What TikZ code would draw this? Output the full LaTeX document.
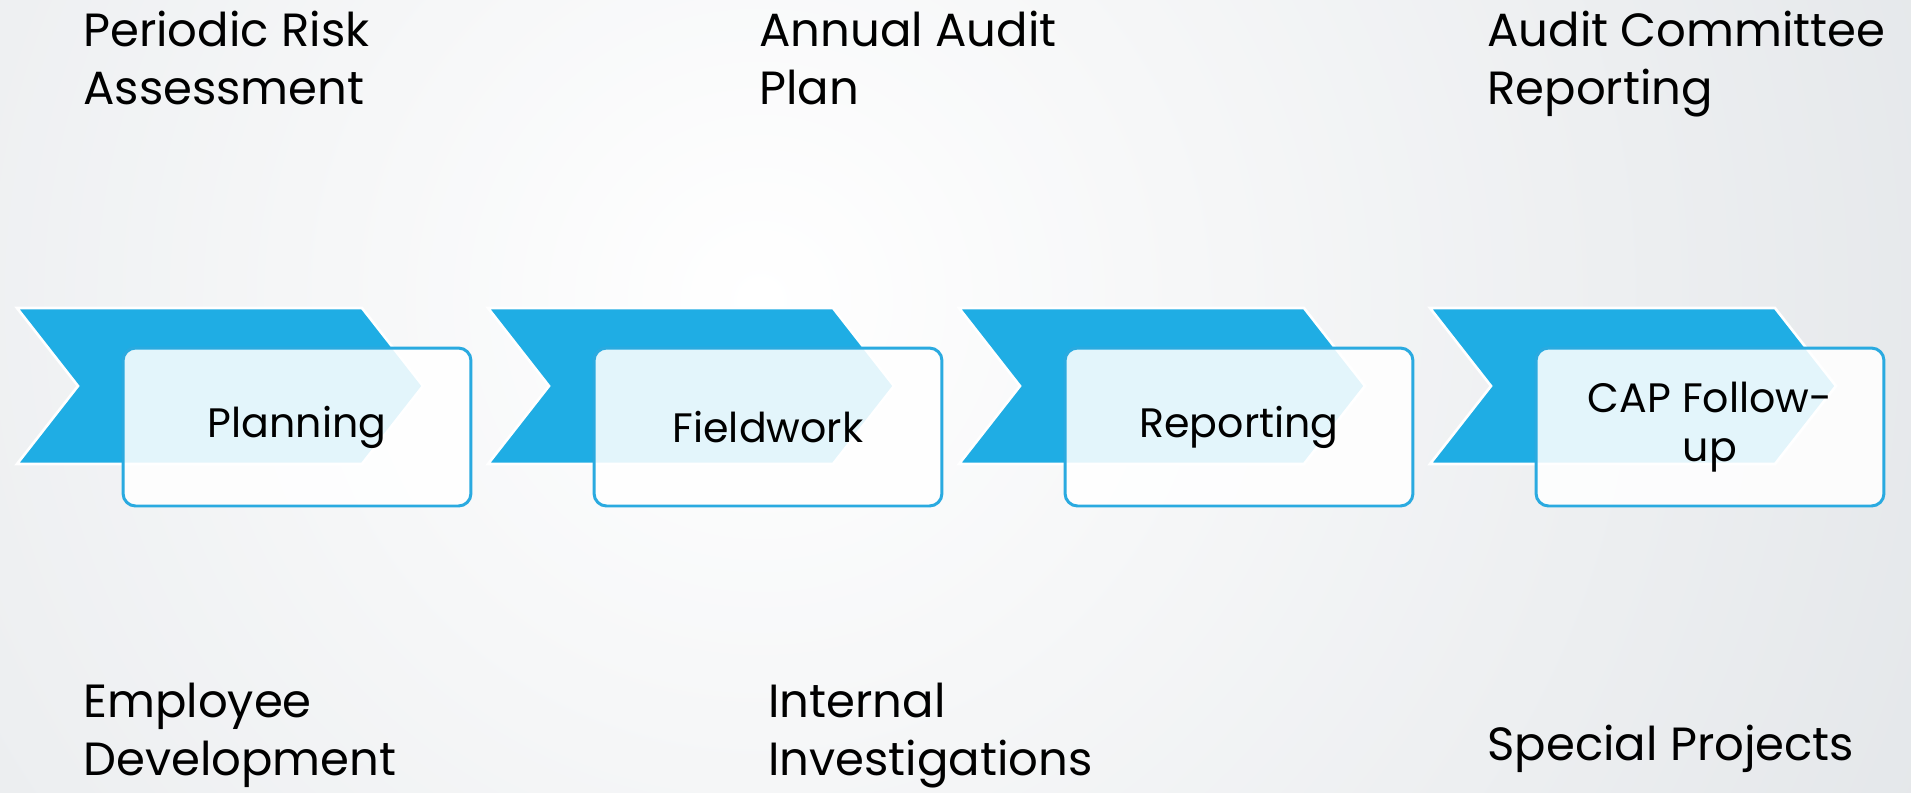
\documentclass[tikz,border=0pt]{standalone}
\usepackage{fontspec}
\setmainfont{Poppins}
\usetikzlibrary{positioning}

\definecolor{stageblue}{HTML}{1FADE4}
\definecolor{edgeblue}{HTML}{2AAAE0}
\definecolor{backgray}{HTML}{C8CED4}

\tikzset{
  chevron/.style={fill=stageblue,draw=white,line width=1.5pt,line join=miter},
  stagebox/.style={draw=edgeblue,line width=1.7pt,fill=white,fill opacity=.88,text opacity=1,
    rounded corners=0.25cm,minimum width=6.96cm,minimum height=3.16cm,align=center,
    font=\fontsize{23.4}{27.5}\selectfont},
  note/.style={anchor=base west,align=left,inner sep=0pt,font=\fontsize{26.5}{33}\selectfont}
}

\begin{document}
\begin{tikzpicture}[x=0.02cm,y=-0.02cm]
      \useasboundingbox (0,0) rectangle (1911,792);
      \begin{scope}
        \clip (0,0) rectangle (1911,792);
        \shade[inner color=white,outer color=backgray] (760,300) circle (2600);
      \end{scope}

      % the four stages
      \foreach \i/\name/\txt in {0/plan/Planning,1/field/Fieldwork,2/report/Reporting,3/cap/{CAP Follow-\\up}}
      {
        \pgfmathsetmacro{\x}{17+471*\i}
        \draw [chevron] (\x,308) -- ++(345,0) -- ++(61,78) -- ++(-61,78) -- ++(-345,0) -- ++(61,-78) -- cycle;
        \node [stagebox] (\name) at (\x+280,427) {\txt};
      }

      % base of a two-line note sits on its last line
      \node [note] (risk) at (83,104) {Periodic Risk\\Assessment};
      \node [note] (annual) at (759,104) {Annual Audit\\Plan};
      \node [note] (committee) at (1487,104) {Audit Committee\\Reporting};
      \node [note] (staff) at (83,775) {Employee\\Development};
      \node [note] (invest) at (768,775) {Internal\\Investigations};
      \node [note] (special) at (1487,760) {Special Projects};
    \end{tikzpicture}
\end{document}
